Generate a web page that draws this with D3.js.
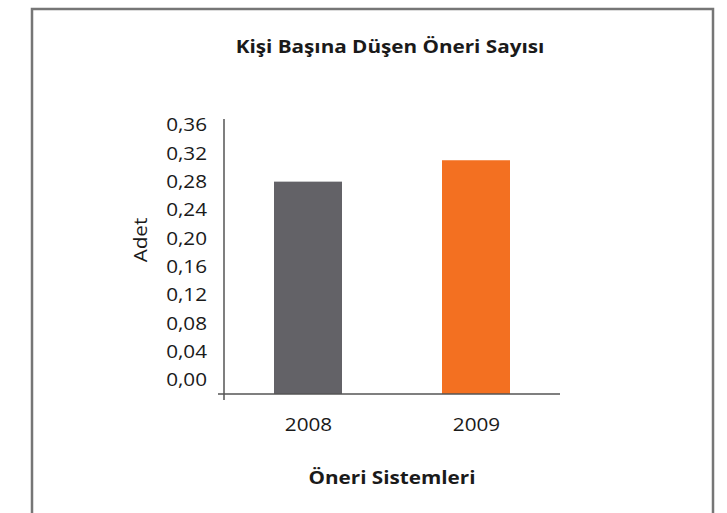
<!DOCTYPE html>
<html>
<head>
<meta charset="utf-8">
<script src="https://cdn.jsdelivr.net/npm/d3@7"></script>
<style>
  body { margin: 0; background: #fff; }
  text { font-family: "Open Sans", sans-serif; fill: #1a1a1a; }
</style>
</head>
<body>
<div id="chart"></div>
<script>
// veriler
var years = ["2008", "2009"];
var values = [0.278, 0.306];
var colors = ["#636267", "#f37021"];
var yTicks = [0, 0.04, 0.08, 0.12, 0.16, 0.20, 0.24, 0.28, 0.32, 0.36];

var dim = {
    width: 727,
    height: 513,
    axisX: 224,
    axisBottom: 394,
    axisTop: 119,
    plotRight: 560
};

// yazılar orijinalde yatayda biraz geniş
var stretch = "scale(1.15,1)";

var svg = d3.select("#chart").append("svg")
    .attr("width", dim.width)
    .attr("height", dim.height);

// çerçeve
svg.append("rect")
    .attr("x", 32).attr("y", 9)
    .attr("width", 681).attr("height", 530)
    .attr("fill", "#fff")
    .attr("stroke", "#767676")
    .attr("stroke-width", 2.5);

var yScaler = d3.scaleLinear()
    .domain([0, 0.36])
    .range([dim.axisBottom, dim.axisTop]);

// etiketler biraz sıkışık duruyor, ayrı ölçek
var yLabelScaler = d3.scaleLinear()
    .domain([0, 0.36])
    .range([380, 125]);

var xScaler = d3.scalePoint()
    .domain(years)
    .range([dim.axisX, dim.plotRight])
    .padding(0.5);

var barW = 68;
var fmt = (d) => d3.format(".2f")(d).replace(".", ",");

// çubuklar
svg.append("g").selectAll("rect")
    .data(years)
    .enter()
    .append("rect")
    .attr("x", (d) => xScaler(d) - barW / 2)
    .attr("width", barW)
    .attr("y", (d, i) => yScaler(values[i]))
    .attr("height", (d, i) => yScaler(0) - yScaler(values[i]))
    .attr("fill", (d, i) => colors[i]);

// y ekseni etiketleri
var yAxis = svg.append("g")
    .attr("transform", "translate(207,0)")
    .call(d3.axisLeft(yLabelScaler).tickValues(yTicks).tickFormat(fmt).tickSize(0).tickPadding(0));
yAxis.select(".domain").remove();
yAxis.selectAll("text")
    .attr("x", 0)
    .attr("transform", stretch)
    .style("font-family", "'Open Sans', sans-serif")
    .style("font-size", "18px")
    .attr("fill", "#1a1a1a");

// eksen çizgileri
svg.append("line")
    .attr("x1", dim.axisX).attr("x2", dim.axisX)
    .attr("y1", yScaler(0.36)).attr("y2", dim.axisBottom + 6)
    .attr("stroke", "#555").attr("stroke-width", 1.5);
svg.append("line")
    .attr("x1", dim.axisX - 6).attr("x2", dim.plotRight)
    .attr("y1", yScaler(0)).attr("y2", yScaler(0))
    .attr("stroke", "#555").attr("stroke-width", 1.5);

// x ekseni etiketleri
var xAxis = svg.append("g")
    .attr("transform", `translate(0,${dim.axisBottom})`)
    .call(d3.axisBottom(xScaler).tickSize(0).tickPadding(24));
xAxis.select(".domain").remove();
xAxis.selectAll("text")
    .attr("transform", stretch)
    .style("font-family", "'Open Sans', sans-serif")
    .style("font-size", "18px")
    .attr("fill", "#1a1a1a");

// başlıklar
svg.append("g")
    .attr("transform", "translate(390,53)")
    .append("text")
    .attr("transform", stretch)
    .attr("text-anchor", "middle")
    .style("font-size", "18px")
    .style("font-weight", "bold")
    .text("Kişi Başına Düşen Öneri Sayısı");

svg.append("g")
    .attr("transform", "translate(392,484)")
    .append("text")
    .attr("transform", stretch)
    .attr("text-anchor", "middle")
    .style("font-size", "18px")
    .style("font-weight", "bold")
    .text("Öneri Sistemleri");

svg.append("text")
    .attr("transform", "translate(147,240) rotate(-90) " + stretch)
    .attr("text-anchor", "middle")
    .style("font-size", "18px")
    .text("Adet");
</script>
</body>
</html>
